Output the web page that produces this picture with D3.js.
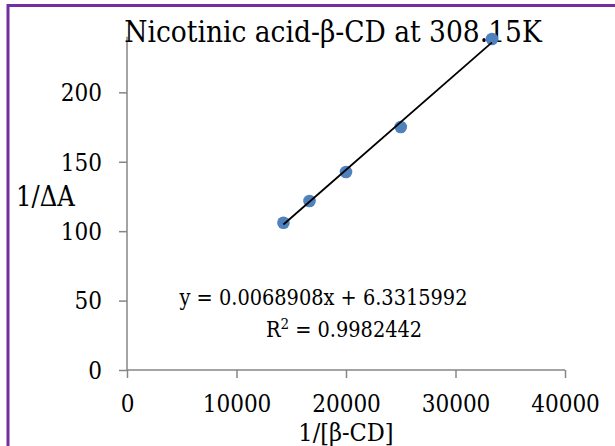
<!DOCTYPE html>
<html><head><meta charset="utf-8">
<script src="https://cdn.jsdelivr.net/npm/d3@7/dist/d3.min.js"></script>
<style>
html,body{margin:0;padding:0;background:#fff;}
svg{display:block;}
text{font-family:"DejaVu Serif Condensed","DejaVu Serif",serif;font-stretch:condensed;fill:#000;}
</style></head>
<body>
<script>
const xValues = [14286, 16667, 20000, 25000, 33333];
const yValues = [106.1, 121.7, 142.6, 175.0, 238.4];
const xTicks = [0, 10000, 20000, 30000, 40000];
const yTicks = [0, 50, 100, 150, 200];
const trendSlope = [0.0068908];
const trendIntercept = [6.3315992];
const titleText = "Nicotinic acid-β-CD at 308.15K";
const xTitle = "1/[β-CD]";
const yTitle = "1/ΔA";
const eqText = "y = 0.0068908x + 6.3315992";
const r2Value = "0.9982442";

const W = 615, H = 446;
const svg = d3.select("body").append("svg").attr("width", W).attr("height", H);

// frame
svg.append("rect").attr("x", 8).attr("y", 5.5).attr("width", 700).attr("height", 600)
  .attr("fill", "none").attr("stroke", "#7030A0").attr("stroke-width", 3);

const x = d3.scaleLinear().domain([0, 40000]).range([127, 565]);
const y = d3.scaleLinear().domain([0, 240]).range([370, 36.8]);

const axisColor = "#868686";
const gx = svg.append("g").attr("transform", "translate(0,370)")
  .call(d3.axisBottom(x).tickValues(xTicks).tickSize(8).tickFormat(d3.format("d")));
const gy = svg.append("g").attr("transform", "translate(127,0)")
  .call(d3.axisLeft(y).tickValues(yTicks).tickSize(8).tickFormat(d3.format("d")));
[gx, gy].forEach(g => {
  g.select(".domain").attr("stroke", axisColor).attr("stroke-width", 1.5);
  g.selectAll(".tick line").attr("stroke", axisColor).attr("stroke-width", 1.5);
  g.selectAll(".tick text").attr("font-size", 24).attr("font-family", null).attr("fill", "#000");
});
gx.select(".domain").attr("d", `M${x(0)},0H${x(40000)}`);
gy.select(".domain").attr("d", `M0,${y(240)}V${y(0)}`);
gx.selectAll(".tick text").attr("dy", null).attr("y", 42);
gy.selectAll(".tick text").attr("x", -25).attr("dy", "0.35em");

// title
svg.append("text").attr("x", 333).attr("y", 42).attr("text-anchor", "middle")
  .attr("font-size", 29.5).text(titleText);

// axis titles
svg.append("text").attr("x", x(20000)).attr("y", 441).attr("text-anchor", "middle")
  .attr("font-size", 25).text(xTitle);
svg.append("text").attr("x", 16).attr("y", 206).attr("text-anchor", "start")
  .attr("font-size", 27).text(yTitle);

// points
svg.append("g").selectAll("circle").data(xValues.map((v, i) => [v, yValues[i]]))
  .join("circle").attr("cx", d => x(d[0])).attr("cy", d => y(d[1])).attr("r", 6.3)
  .attr("fill", "#4F81BD");

// trendline
const x0 = d3.min(xValues), x1 = d3.max(xValues);
svg.append("line")
  .attr("x1", x(x0)).attr("y1", y(trendSlope[0] * x0 + trendIntercept[0]))
  .attr("x2", x(x1)).attr("y2", y(trendSlope[0] * x1 + trendIntercept[0]))
  .attr("stroke", "#000").attr("stroke-width", 1.8);

// equation
svg.append("text").attr("x", 323.5).attr("y", 305).attr("text-anchor", "middle")
  .attr("font-size", 21.5).text(eqText);
const r2 = svg.append("text").attr("x", 344).attr("y", 337).attr("text-anchor", "middle")
  .attr("font-size", 21.5);
r2.append("tspan").text("R");
r2.append("tspan").attr("dy", -8).attr("font-size", 15).text("2");
r2.append("tspan").attr("dy", 8).text(" = " + r2Value);
</script>
</body></html>
